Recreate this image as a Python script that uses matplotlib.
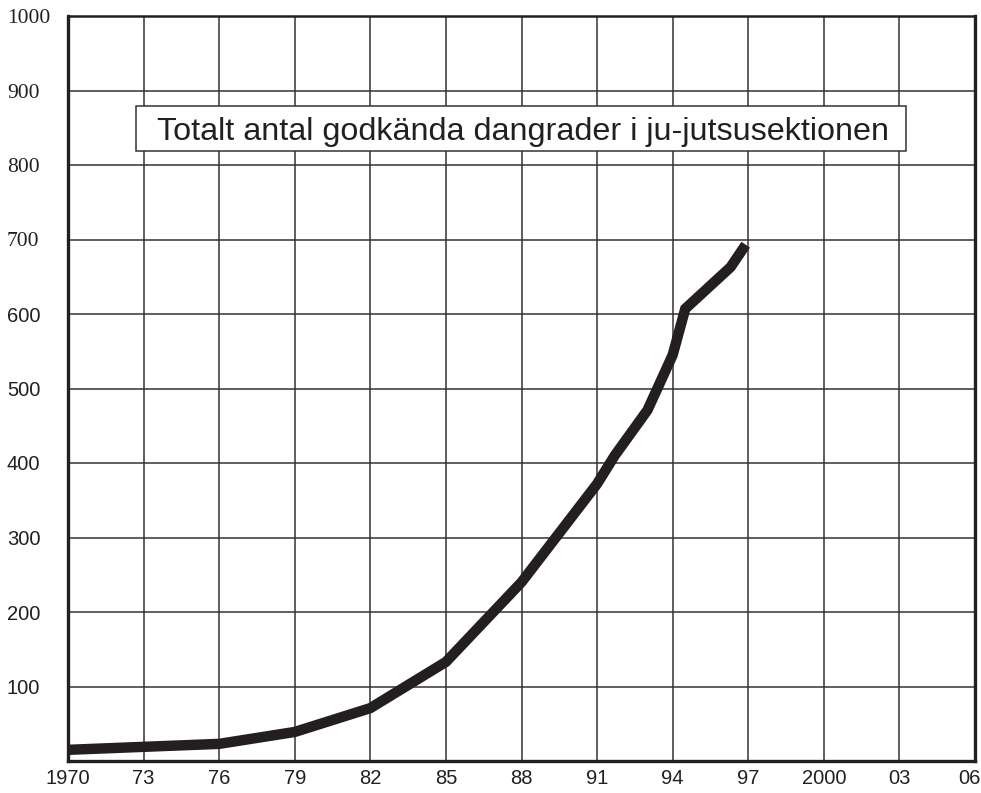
import matplotlib
matplotlib.use("Agg")
from matplotlib import pyplot as plt
from matplotlib.patches import Rectangle
from matplotlib.transforms import ScaledTranslation

# data
years = [1970, 1973, 1976, 1979, 1982, 1985, 1988, 1991, 1991.7, 1993, 1994, 1994.5, 1996.3, 1996.9]
dangrader = [15, 19, 23, 39, 71, 133, 240, 372, 410, 471, 545, 607, 663, 693]

xticks = [1970, 1973, 1976, 1979, 1982, 1985, 1988, 1991, 1994, 1997, 2000, 2003, 2006]
xlabels = ["1970", "73", "76", "79", "82", "85", "88", "91", "94", "97", "2000", "03", "06"]
yticks = [100, 200, 300, 400, 500, 600, 700, 800, 900, 1000]
ylabels = ["100", "200", "300", "400", "500", "600", "700", "800", "900", "1000"]
serif_labels = ["700", "800", "900", "1000"]

title = "Totalt antal godkända dangrader i ju-jutsusektionen"

ink = "#231f20"

fig = plt.figure(figsize=(9.81, 7.93), dpi=100)
ax = fig.add_axes([68 / 981, 1 - 761 / 793, 907 / 981, 745 / 793])

ax.plot(years, dangrader, color=ink, lw=7.5, solid_capstyle="butt",
        solid_joinstyle="miter", zorder=3)

ax.set_xlim(1970, 2006)
ax.set_ylim(0, 1000)
ax.set_xticks(xticks)
ax.set_xticklabels(xlabels, fontsize=14.5, family="Liberation Sans", color=ink)
ax.set_yticks(yticks)
ax.set_yticklabels(ylabels, fontsize=14.5, family="Liberation Sans", color=ink)
ax.tick_params(axis="y", length=0, pad=44)
ax.tick_params(axis="x", length=0, pad=6)
for lab, txt in zip(ax.get_yticklabels(), ylabels):
    lab.set_horizontalalignment("left")
    if txt in serif_labels:
        lab.set_fontfamily("Liberation Serif")
        lab.set_fontsize(15.5)

# last label sits at the very edge of the figure, nudge it in a little
last = ax.get_xticklabels()[-1]
last.set_transform(last.get_transform() + ScaledTranslation(-6 / 100, 0, fig.dpi_scale_trans))

ax.grid(True, color="#333333", lw=1.1, zorder=1)
for side in ["left", "bottom", "right"]:
    ax.spines[side].set_linewidth(2.4)
    ax.spines[side].set_color(ink)
ax.spines["top"].set_linewidth(1.8)
ax.spines["top"].set_color(ink)

# title box
ax.add_patch(Rectangle((0.075, 0.8188), 0.849, 0.0604, transform=ax.transAxes,
                       fc="white", ec="#333333", lw=1.1, zorder=4))
ax.text(0.5017, 0.8336, title, transform=ax.transAxes, fontsize=23.3,
        family="Liberation Sans", color=ink, ha="center", va="baseline", zorder=5)

fig.savefig("out.png", dpi=100)
